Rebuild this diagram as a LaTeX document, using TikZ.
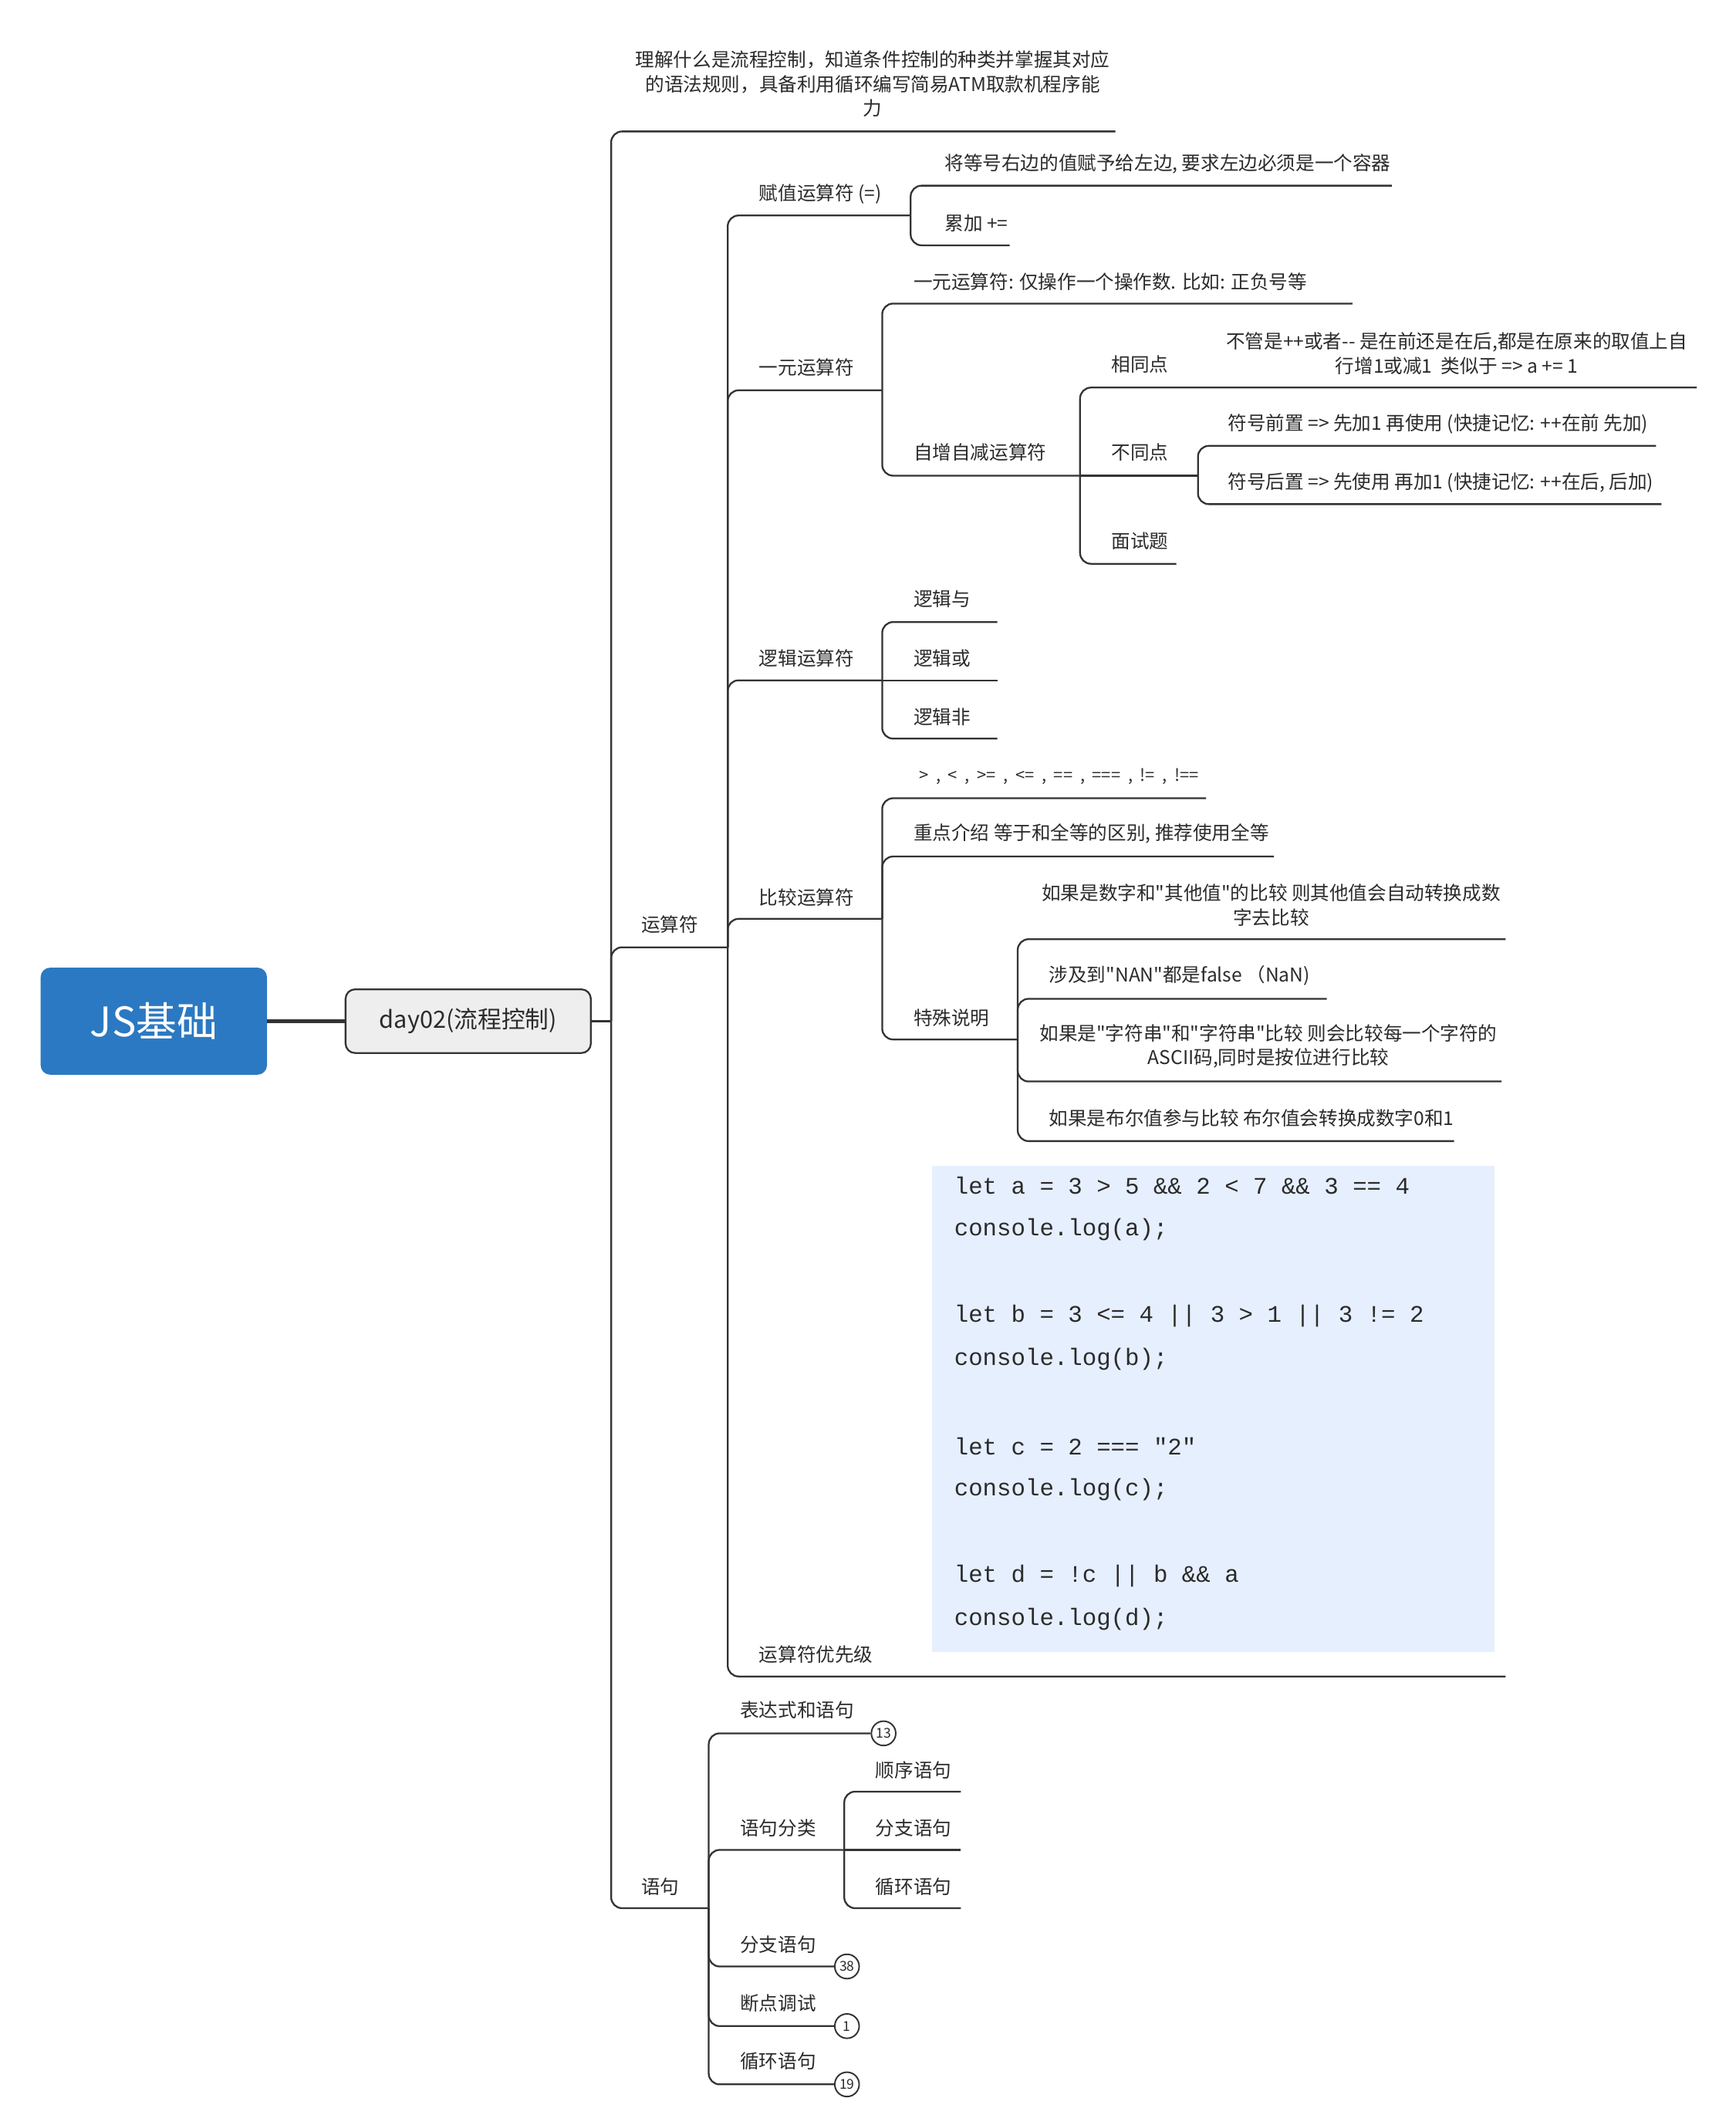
\documentclass[tikz,border=0pt]{standalone}
\usepackage{fontspec}
\setmainfont{Noto Sans CJK SC}[Ligatures=TeXOff]
\newfontfamily\codefont{Liberation Mono}
\definecolor{linec}{HTML}{333333}
\definecolor{txtc}{HTML}{2B2B2B}
\definecolor{rootblue}{HTML}{2B79C2}
\definecolor{daygray}{HTML}{EEEEEE}
\definecolor{codebg}{HTML}{E6EFFD}
\newcommand\gapx{\hspace{5.5pt}}
\tikzset{
  br/.style={draw=linec, line width=1.3pt, rounded corners=8pt},
  lab/.style={anchor=west, inner sep=0pt, text=txtc, font=\fontsize{14}{18}\selectfont},
  labc/.style={anchor=center, inner sep=0pt, text=txtc, align=center, font=\fontsize{14}{18}\selectfont},
  badge/.style={circle, draw=linec, line width=1.1pt, fill=white, minimum size=18pt, inner sep=0pt, text=txtc, font=\fontsize{10}{12}\selectfont},
  codeln/.style={anchor=west, inner sep=0pt, text=txtc, font=\codefont\fontsize{17.5}{20}\selectfont},
  rootbox/.style={rounded corners=7pt, fill=rootblue, minimum width=167pt, minimum height=79pt, text=white, font=\fontsize{30}{34}\selectfont, inner sep=0pt},
  daybox/.style={rounded corners=7pt, fill=daygray, draw=linec, line width=1.3pt, minimum width=181pt, minimum height=47pt, text=txtc, font=\fontsize{17.5}{20}\selectfont, inner sep=0pt}
}
\begin{document}
\begin{tikzpicture}[x=1pt,y=-1pt]
\path[use as bounding box, fill=white] (0,0) rectangle (1281,1568);

% main nodes
\node[rootbox] (root) at (113.5,753.5) {JS基础};
\node[daybox] (day) at (345.5,753.5) {day02(流程控制)};
\draw[linec, line width=3pt] (root.east) -- (day.west);

% junctions
\coordinate (j0) at (451,753.5);
\coordinate (j1) at (537,699);
\coordinate (j2) at (672,159);
\coordinate (j3) at (651,288);
\coordinate (j4) at (797,351);
\coordinate (j5) at (884,351);
\coordinate (j6) at (651,502);
\coordinate (j7) at (651,678);
\coordinate (j8) at (751,767);
\coordinate (j9) at (523,1408);
\coordinate (j10) at (623,1365);

% ends
\coordinate (e_note) at (823,97);
\coordinate (e_jdeng) at (1027,137);
\coordinate (e_lj) at (745,181);
\coordinate (e_yydesc) at (998,224);
\coordinate (e_xt) at (1252,286);
\coordinate (e_qz) at (1222,329);
\coordinate (e_hz) at (1226,372);
\coordinate (e_ms) at (868,416);
\coordinate (e_and) at (736,459);
\coordinate (e_or) at (736,502);
\coordinate (e_not) at (736,545);
\coordinate (e_ops) at (890,589);
\coordinate (e_zd) at (940,632);
\coordinate (e_num) at (1111,693);
\coordinate (e_nan) at (979,737);
\coordinate (e_str) at (1108,798);
\coordinate (e_bool) at (1073,842);
\coordinate (e_prio) at (1111,1237);
\coordinate (e_sx) at (709,1322);
\coordinate (e_fz3) at (709,1365);
\coordinate (e_xh3) at (709,1408);

% labels
\node[labc] (note) at (644,62) {理解什么是流程控制，知道条件控制的种类并掌握其对应\\的语法规则，具备利用循环编写简易ATM取款机程序能\\力};
\node[lab] (ysf) at (473,682) {运算符};
\node[lab] (yj) at (473,1392) {语句};
\node[lab] (fz) at (560,143) {赋值运算符 (=)};
\node[lab] (jdeng) at (697,121) {将等号右边的值赋予给左边, 要求左边必须是一个容器};
\node[lab] (lj) at (697,165) {累加 +=};
\node[lab] (yy) at (560,271) {一元运算符};
\node[lab] (yydesc) at (674,208) {一元运算符: 仅操作一个操作数. 比如: 正负号等};
\node[lab] (zz) at (674,334) {自增自减运算符};
\node[lab] (xt) at (820,269) {相同点};
\node[labc] (xtd) at (1075,261) {不管是++或者-{}- 是在前还是在后,都是在原来的取值上自\\行增1或减1\ \ 类似于 => a += 1};
\node[lab] (bt) at (820,334) {不同点};
\node[lab] (qz) at (906,313) {符号前置 => 先加1 再使用 (快捷记忆: ++在前 先加)};
\node[lab] (hz) at (906,356) {符号后置 => 先使用 再加1 (快捷记忆: ++在后, 后加)};
\node[lab] (ms) at (820,399) {面试题};
\node[lab] (lo) at (560,486) {逻辑运算符};
\node[lab] (and) at (674,442) {逻辑与};
\node[lab] (or) at (674,486) {逻辑或};
\node[lab] (not) at (674,529) {逻辑非};
\node[lab] (cmp) at (560,662) {比较运算符};
\node[lab, font=\fontsize{12.5}{14}\selectfont] (ops) at (678,573) {>\gapx,\gapx<\gapx,\gapx>=\gapx,\gapx<=\gapx,\gapx==\gapx,\gapx===\gapx,\gapx!=\gapx,\gapx!==};
\node[lab] (zd) at (674,615) {重点介绍 等于和全等的区别, 推荐使用全等};
\node[lab] (ts) at (674,751) {特殊说明};
\node[labc] (num) at (938,668) {如果是数字和"其他值"的比较 则其他值会自动转换成数\\字去比较};
\node[lab] (nan) at (774,720) {涉及到"NAN"都是false （NaN)};
\node[labc] (str) at (936,772) {如果是"字符串"和"字符串"比较 则会比较每一个字符的\\ASCII码,同时是按位进行比较};
\node[lab] (bool) at (774,825) {如果是布尔值参与比较 布尔值会转换成数字0和1};
\node[lab] (prio) at (560,1221) {运算符优先级};
\node[lab] (bds) at (546,1262) {表达式和语句};
\node[lab] (fl) at (546,1349) {语句分类};
\node[lab] (sx) at (646,1306) {顺序语句};
\node[lab] (fzb) at (646,1349) {分支语句};
\node[lab] (xhb) at (646,1392) {循环语句};
\node[lab] (fzyj) at (546,1435) {分支语句};
\node[lab] (dd) at (546,1478) {断点调试};
\node[lab] (xh) at (546,1521) {循环语句};

% code block
\fill[codebg] (688,860) rectangle (1103,1219);
\node[codeln] (c1) at (704,875) {let a = 3 > 5 \&\& 2 < 7 \&\& 3 == 4};
\node[codeln] (c2) at (704,907) {console.log(a);};
\node[codeln] (c3) at (704,971) {let b = 3 <= 4 || 3 > 1 || 3 != 2};
\node[codeln] (c4) at (704,1003) {console.log(b);};
\node[codeln] (c5) at (704,1067) {let c = 2 === "2"};
\node[codeln] (c6) at (704,1099) {console.log(c);};
\node[codeln] (c7) at (704,1163) {let d = !c || b \&\& a};
\node[codeln] (c8) at (704,1195) {console.log(d);};

% connectors
\draw[br] (day.east) -- (j0);
\draw[br] (j0) |- (e_note);
\draw[br] (j0) |- (j1);
\draw[br] (j0) |- (j9);

\draw[br] (j1) |- (j2);
\draw[br] (j1) |- (j3);
\draw[br] (j1) |- (j6);
\draw[br] (j1) |- (j7);
\draw[br] (j1) |- (e_prio);

\draw[br] (j2) |- (e_jdeng);
\draw[br] (j2) |- (e_lj);

\draw[br] (j3) |- (e_yydesc);
\draw[br] (j3) |- (j4);

\draw[br] (j4) |- (e_xt);
\draw[br] (j4) -- (j5);
\draw[br] (j4) |- (e_ms);

\draw[br] (j5) |- (e_qz);
\draw[br] (j5) |- (e_hz);

\draw[br] (j6) |- (e_and);
\draw[br] (j6) -- (e_or);
\draw[br] (j6) |- (e_not);

\draw[br] (j7) |- (e_ops);
\draw[br] (j7) |- (e_zd);
\draw[br] (j7) |- (j8);

\draw[br] (j8) |- (e_num);
\draw[br] (j8) |- (e_nan);
\draw[br] (j8) |- (e_str);
\draw[br] (j8) |- (e_bool);

\node[badge] (b13) at (652,1279) {13};
\node[badge] (b38) at (625,1451) {38};
\node[badge] (b1) at (625,1495) {1};
\node[badge] (b19) at (625,1538) {19};

\draw[br] (j9) |- (b13.west);
\draw[br] (j9) |- (j10);
\draw[br] (j9) |- (b38.west);
\draw[br] (j9) |- (b1.west);
\draw[br] (j9) |- (b19.west);

\draw[br] (j10) |- (e_sx);
\draw[br] (j10) -- (e_fz3);
\draw[br] (j10) |- (e_xh3);
\end{tikzpicture}
\end{document}
